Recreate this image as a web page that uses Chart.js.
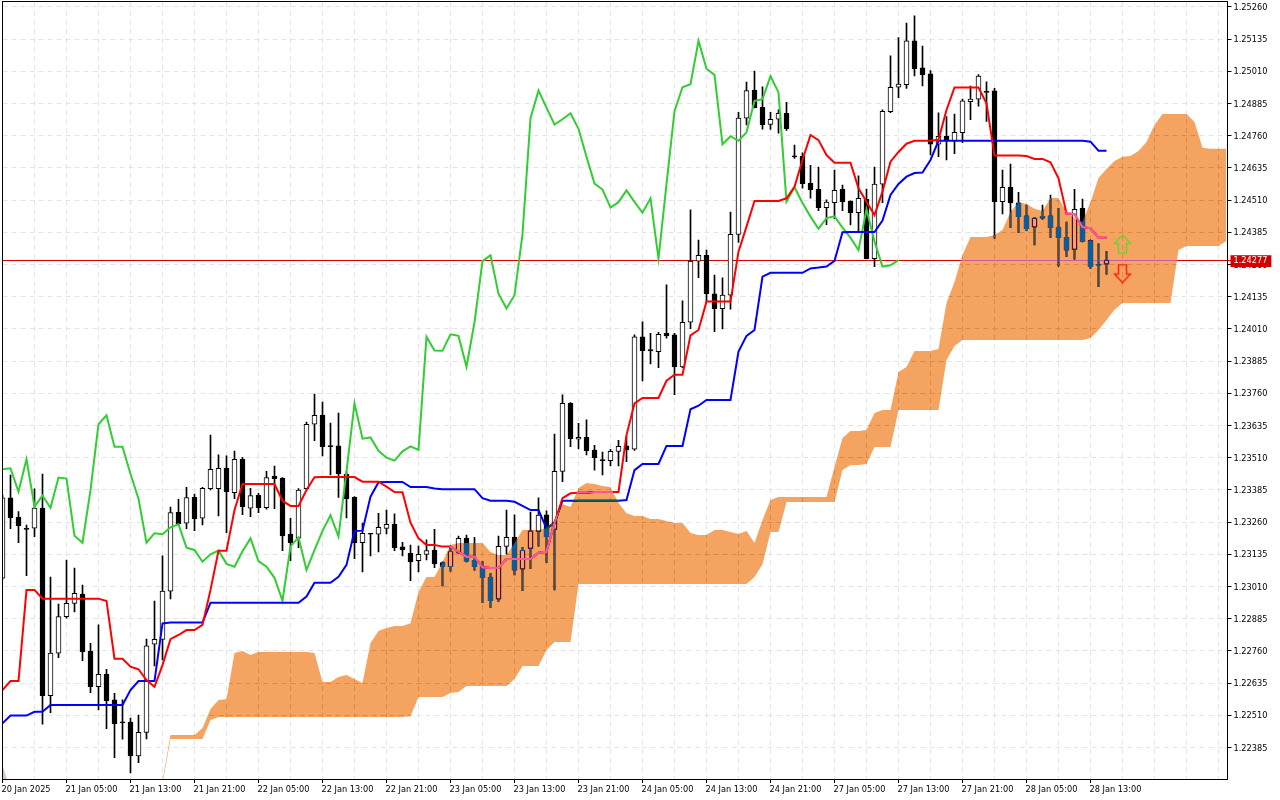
<!DOCTYPE html>
<html>
<head>
<meta charset="utf-8">
<title>EURUSD Ichimoku H1</title>
<style>html,body{margin:0;padding:0;background:#fff;overflow:hidden}canvas{display:block}</style>
<script src="https://cdn.jsdelivr.net/npm/chart.js@4/dist/chart.umd.min.js"></script>
</head>
<body>
<canvas id="c" width="1280" height="800"></canvas>
<script>
const timeLabels = ["20 Jan 2025","21 Jan 05:00","21 Jan 13:00","21 Jan 21:00","22 Jan 05:00","22 Jan 13:00","22 Jan 21:00","23 Jan 05:00","23 Jan 13:00","23 Jan 21:00","24 Jan 05:00","24 Jan 13:00","24 Jan 21:00","27 Jan 05:00","27 Jan 13:00","27 Jan 21:00","28 Jan 05:00","28 Jan 13:00"];
const priceTicks = [1.22385,1.22510,1.22635,1.22760,1.22885,1.23010,1.23135,1.23260,1.23385,1.23510,1.23635,1.23760,1.23885,1.24010,1.24135,1.24260,1.24385,1.24510,1.24635,1.24760,1.24885,1.25010,1.25135,1.25260];
const lastPrice = 1.24277;
const opens = [
1.23043,1.23354,1.23280,1.23236,1.23237,1.23315,1.22586,1.22751,1.22893,1.22945,
1.22981,1.22760,1.22621,1.22669,1.22570,1.22485,1.22484,1.22353,1.22444,1.22786,
1.22805,1.22992,1.23298,1.23256,1.23356,1.23275,1.23390,1.23390,1.23469,1.23374,
1.23504,1.23314,1.23364,1.23316,1.23439,1.23430,1.23214,1.23198,1.23390,1.23640,
1.23676,1.23555,1.23556,1.23447,1.23356,1.23180,1.23215,1.23213,1.23236,1.23252,
1.23164,1.23139,1.23110,1.23135,1.23152,1.23103,1.23087,1.23141,1.23198,1.23112,
1.23087,1.23047,1.22961,1.23166,1.23202,1.23077,1.23158,1.23224,1.23288,1.23232,
1.23457,1.23721,1.23582,1.23589,1.23540,1.23502,1.23499,1.23535,1.23556,1.23543,
1.23979,1.23930,1.23922,1.23993,1.23987,1.23863,1.24036,1.24273,1.24296,1.24146,
1.24089,1.24141,1.24377,1.24828,1.24936,1.24870,1.24804,1.24824,1.24847,1.24681,
1.24681,1.24575,1.24552,1.24481,1.24500,1.24552,1.24506,1.24461,1.24513,1.24283,
1.24572,1.24853,1.24948,1.24958,1.25128,1.25023,1.25000,1.24727,1.24759,1.24740,
1.24772,1.24892,1.24902,1.24932,1.24934,1.24504,1.24560,1.24499,1.24449,1.24405,
1.24440,1.24449,1.24405,1.24366,1.24319,1.24478,1.24353,1.24260,1.24261];
const highs = [
1.23365,1.23443,1.23301,1.23249,1.23389,1.23447,1.23047,1.22942,1.23113,1.23082,
1.23016,1.22790,1.22861,1.22689,1.22596,1.22570,1.22499,1.22511,1.22806,1.22954,
1.23129,1.23318,1.23349,1.23395,1.23369,1.23395,1.23598,1.23521,1.23517,1.23536,
1.23512,1.23391,1.23372,1.23457,1.23478,1.23433,1.23275,1.23390,1.23648,1.23757,
1.23726,1.23645,1.23683,1.23456,1.23359,1.23256,1.23217,1.23294,1.23307,1.23292,
1.23182,1.23171,1.23167,1.23191,1.23232,1.23106,1.23167,1.23206,1.23210,1.23201,
1.23108,1.23061,1.23206,1.23307,1.23288,1.23162,1.23299,1.23354,1.23304,1.23602,
1.23754,1.23724,1.23644,1.23657,1.23558,1.23532,1.23543,1.23578,1.23591,1.23987,
1.24038,1.23993,1.23997,1.24181,1.23993,1.24119,1.24472,1.24355,1.24316,1.24219,
1.24208,1.24464,1.24851,1.24968,1.25011,1.24950,1.24851,1.24860,1.24890,1.24724,
1.24694,1.24645,1.24638,1.24511,1.24627,1.24568,1.24507,1.24604,1.24553,1.24638,
1.24860,1.25070,1.25141,1.25197,1.25225,1.25108,1.25013,1.24849,1.24834,1.24844,
1.24902,1.24953,1.24997,1.24969,1.24944,1.24627,1.24650,1.24540,1.24491,1.24443,
1.24491,1.24530,1.24478,1.24425,1.24552,1.24514,1.24355,1.24340,1.24310];
const lows = [
1.23039,1.23235,1.23180,1.23052,1.23204,1.22476,1.22520,1.22734,1.22887,1.22912,
1.22722,1.22598,1.22531,1.22458,1.22346,1.22418,1.22287,1.22326,1.22419,1.22702,
1.22725,1.22962,1.23249,1.23235,1.23227,1.23249,1.23385,1.23284,1.23219,1.23351,
1.23289,1.23281,1.23297,1.23310,1.23312,1.23149,1.23110,1.23161,1.23385,1.23576,
1.23517,1.23443,1.23356,1.23276,1.23118,1.23067,1.23129,1.23144,1.23214,1.23149,
1.23129,1.23033,1.23067,1.23113,1.23083,1.23012,1.23070,1.23140,1.23106,1.23074,
1.22947,1.22928,1.22951,1.23136,1.23055,1.22994,1.23079,1.23167,1.23103,1.22997,
1.23417,1.23553,1.23544,1.23521,1.23462,1.23443,1.23478,1.23478,1.23495,1.23538,
1.23808,1.23874,1.23860,1.23974,1.23755,1.23860,1.24011,1.24209,1.24116,1.23999,
1.24010,1.24087,1.24346,1.24802,1.24868,1.24785,1.24784,1.24770,1.24781,1.24672,
1.24556,1.24518,1.24469,1.24415,1.24438,1.24469,1.24414,1.24390,1.24282,1.24252,
1.24500,1.24849,1.24908,1.24944,1.24992,1.24953,1.24685,1.24679,1.24666,1.24690,
1.24733,1.24822,1.24875,1.24815,1.24362,1.24456,1.24403,1.24384,1.24391,1.24336,
1.24436,1.24364,1.24254,1.24290,1.24281,1.24348,1.24245,1.24174,1.24223];
const closes = [
1.23354,1.23277,1.23246,1.23232,1.23315,1.22586,1.22752,1.22893,1.22945,1.22984,
1.22757,1.22621,1.22669,1.22566,1.22478,1.22481,1.22353,1.22444,1.22780,1.22805,
1.22992,1.23297,1.23254,1.23355,1.23273,1.23391,1.23465,1.23469,1.23378,1.23504,
1.23320,1.23363,1.23316,1.23433,1.23429,1.23207,1.23180,1.23384,1.23640,1.23675,
1.23553,1.23553,1.23447,1.23351,1.23180,1.23217,1.23213,1.23240,1.23252,1.23161,
1.23152,1.23106,1.23135,1.23150,1.23098,1.23087,1.23147,1.23197,1.23109,1.23087,
1.23044,1.22955,1.23166,1.23201,1.23074,1.23151,1.23226,1.23287,1.23204,1.23457,
1.23721,1.23584,1.23589,1.23537,1.23510,1.23499,1.23535,1.23554,1.23540,1.23979,
1.23926,1.23925,1.23989,1.23983,1.23863,1.24036,1.24273,1.24296,1.24147,1.24089,
1.24141,1.24377,1.24828,1.24935,1.24869,1.24803,1.24824,1.24847,1.24787,1.24678,
1.24574,1.24551,1.24481,1.24502,1.24548,1.24503,1.24461,1.24517,1.24283,1.24572,
1.24855,1.24948,1.24960,1.25128,1.25020,1.24996,1.24727,1.24758,1.24740,1.24773,
1.24895,1.24902,1.24991,1.24928,1.24504,1.24560,1.24499,1.24446,1.24399,1.24440,
1.24447,1.24403,1.24364,1.24316,1.24474,1.24349,1.24252,1.24257,1.24277];
const tenkan = [
1.22608,1.22643,1.22643,1.22997,1.22997,1.22963,1.22963,1.22963,1.22963,1.22963,
1.22963,1.22963,1.22963,1.22954,1.22730,1.22730,1.22699,1.22689,1.22647,1.22621,
1.22705,1.22806,1.22822,1.22841,1.22841,1.22861,1.22997,1.23149,1.23149,1.23307,
1.23408,1.23408,1.23408,1.23408,1.23408,1.23343,1.23323,1.23323,1.23385,1.23434,
1.23435,1.23435,1.23435,1.23435,1.23435,1.23417,1.23417,1.23417,1.23398,1.23377,
1.23376,1.23258,1.23197,1.23171,1.23171,1.23165,1.23165,1.23145,1.23126,1.23126,
1.23085,1.23082,1.23082,1.23117,1.23117,1.23117,1.23117,1.23141,1.23145,1.23257,
1.23353,1.23372,1.23374,1.23374,1.23377,1.23377,1.23377,1.23377,1.23598,1.23721,
1.23742,1.23742,1.23742,1.23809,1.23832,1.23832,1.23985,1.24006,1.24116,1.24116,
1.24116,1.24116,1.24310,1.24407,1.24507,1.24507,1.24507,1.24507,1.24517,1.24562,
1.24666,1.24763,1.24743,1.24685,1.24655,1.24655,1.24655,1.24556,1.24504,1.24452,
1.24543,1.24659,1.24697,1.24729,1.24740,1.24740,1.24740,1.24744,1.24860,1.24947,
1.24947,1.24947,1.24947,1.24886,1.24683,1.24683,1.24683,1.24683,1.24681,1.24670,
1.24670,1.24657,1.24595,1.24459,1.24455,1.24405,1.24401,1.24364,1.24364];
const kijun = [
1.22479,1.22509,1.22509,1.22509,1.22524,1.22524,1.22550,1.22550,1.22550,1.22550,
1.22550,1.22550,1.22550,1.22550,1.22550,1.22550,1.22608,1.22643,1.22643,1.22643,
1.22867,1.22870,1.22870,1.22870,1.22870,1.22870,1.22947,1.22947,1.22947,1.22947,
1.22947,1.22947,1.22947,1.22947,1.22947,1.22947,1.22947,1.22947,1.22971,1.23025,
1.23025,1.23025,1.23048,1.23094,1.23226,1.23227,1.23359,1.23415,1.23416,1.23416,
1.23416,1.23396,1.23396,1.23396,1.23391,1.23388,1.23388,1.23388,1.23388,1.23388,
1.23353,1.23343,1.23343,1.23343,1.23339,1.23323,1.23307,1.23307,1.23236,1.23256,
1.23343,1.23343,1.23343,1.23343,1.23343,1.23343,1.23343,1.23343,1.23346,1.23462,
1.23486,1.23486,1.23486,1.23556,1.23556,1.23556,1.23698,1.23712,1.23734,1.23734,
1.23734,1.23734,1.23922,1.23983,1.24006,1.24213,1.24228,1.24228,1.24228,1.24228,
1.24228,1.24245,1.24248,1.24252,1.24274,1.24385,1.24386,1.24386,1.24386,1.24386,
1.24431,1.24530,1.24573,1.24601,1.24615,1.24617,1.24666,1.24740,1.24740,1.24740,
1.24740,1.24740,1.24740,1.24740,1.24740,1.24740,1.24740,1.24740,1.24740,1.24740,
1.24740,1.24740,1.24740,1.24740,1.24740,1.24740,1.24737,1.24702,1.24702];
const chikou = [
1.23465,1.23469,1.23378,1.23504,1.23320,1.23363,1.23316,1.23433,1.23429,1.23207,
1.23180,1.23384,1.23640,1.23675,1.23553,1.23553,1.23447,1.23351,1.23180,1.23217,
1.23213,1.23240,1.23252,1.23161,1.23152,1.23106,1.23135,1.23150,1.23098,1.23087,
1.23147,1.23197,1.23109,1.23087,1.23044,1.22955,1.23166,1.23201,1.23074,1.23151,
1.23226,1.23287,1.23204,1.23457,1.23721,1.23584,1.23589,1.23537,1.23510,1.23499,
1.23535,1.23554,1.23540,1.23979,1.23926,1.23925,1.23989,1.23983,1.23863,1.24036,
1.24273,1.24296,1.24147,1.24089,1.24141,1.24377,1.24828,1.24935,1.24869,1.24803,
1.24824,1.24847,1.24787,1.24678,1.24574,1.24551,1.24481,1.24502,1.24548,1.24503,
1.24461,1.24517,1.24283,1.24572,1.24855,1.24948,1.24960,1.25128,1.25020,1.24996,
1.24727,1.24758,1.24740,1.24773,1.24895,1.24902,1.24991,1.24928,1.24504,1.24560,
1.24499,1.24446,1.24399,1.24440,1.24447,1.24403,1.24364,1.24316,1.24474,1.24349,
1.24252,1.24257,1.24277];
const cloudTop = [
null,null,null,null,null,null,null,null,null,null,
null,null,null,null,null,null,null,null,null,null,
1.22255,1.22434,1.22434,1.22434,1.22434,1.22461,1.22535,1.22570,1.22573,1.22752,
1.22760,1.22744,1.22756,1.22756,1.22756,1.22756,1.22756,1.22756,1.22756,1.22752,
1.22640,1.22640,1.22659,1.22667,1.22651,1.22636,1.22791,1.22837,1.22849,1.22857,
1.22857,1.22868,1.22989,1.23047,1.23047,1.23105,1.23171,1.23179,1.23179,1.23179,
1.23179,1.23144,1.23132,1.23132,1.23179,1.23230,1.23230,1.23230,1.23237,1.23268,
1.23330,1.23319,1.23393,1.23412,1.23408,1.23400,1.23396,1.23334,1.23295,1.23284,
1.23284,1.23272,1.23272,1.23264,1.23257,1.23257,1.23218,1.23210,1.23210,1.23230,
1.23230,1.23222,1.23214,1.23226,1.23179,1.23268,1.23346,1.23358,1.23358,1.23358,
1.23358,1.23358,1.23358,1.23358,1.23474,1.23587,1.23614,1.23614,1.23618,1.23684,
1.23695,1.23695,1.23843,1.23862,1.23924,1.23924,1.23924,1.23932,1.24111,1.24192,
1.24297,1.24367,1.24367,1.24367,1.24375,1.24394,1.24464,1.24503,1.24495,1.24476,
1.24468,1.24518,1.24518,1.24464,1.24441,1.24425,1.24503,1.24596,1.24631,1.24662,
1.24678,1.24681,1.24701,1.24736,1.24802,1.24844,1.24844,1.24844,1.24844,1.24813,
1.24713,1.24709,1.24709,1.24709];
const cloudBottom = [
null,null,null,null,null,null,null,null,null,null,
null,null,null,null,null,null,null,null,null,null,
1.22244,1.22418,1.22418,1.22418,1.22418,1.22418,1.22492,1.22504,1.22504,1.22504,
1.22504,1.22504,1.22504,1.22504,1.22504,1.22504,1.22504,1.22504,1.22504,1.22504,
1.22504,1.22504,1.22504,1.22504,1.22504,1.22504,1.22504,1.22504,1.22504,1.22504,
1.22504,1.22507,1.22581,1.22581,1.22581,1.22581,1.22597,1.22601,1.22624,1.22624,
1.22624,1.22624,1.22624,1.22624,1.22651,1.22702,1.22702,1.22702,1.22764,1.22795,
1.22795,1.22795,1.23020,1.23020,1.23020,1.23020,1.23020,1.23020,1.23020,1.23020,
1.23020,1.23020,1.23020,1.23020,1.23020,1.23020,1.23020,1.23020,1.23020,1.23020,
1.23020,1.23020,1.23020,1.23020,1.23047,1.23097,1.23222,1.23222,1.23338,1.23338,
1.23338,1.23338,1.23338,1.23338,1.23338,1.23462,1.23482,1.23482,1.23486,1.23552,
1.23552,1.23552,1.23695,1.23695,1.23695,1.23695,1.23695,1.23695,1.23889,1.23944,
1.23967,1.23967,1.23967,1.23967,1.23967,1.23967,1.23967,1.23967,1.23967,1.23967,
1.23967,1.23967,1.23967,1.23967,1.23967,1.23967,1.23975,1.24006,1.24045,1.24084,
1.24111,1.24111,1.24111,1.24111,1.24111,1.24111,1.24111,1.24316,1.24332,1.24332,
1.24332,1.24332,1.24332,1.24351];
const oldCloudTop = [1.22317,1.22220];
const oldCloudBottom = [1.22220,1.22220];
const arrowIndex = 140;
const arrowUpPrice = 1.24340;
const arrowDownPrice = 1.24225;
const tenkanInCloudRanges = [[56, 69], [133, 138]];
const kijunInCloudRanges = [[72, 77]];

const barCount = 154;
const labels = Array.from({length: barCount}, (_, k) => k % 8 === 0 ? (timeLabels[k / 8] || '') : '');
const wickData = highs.map((h, k) => [lows[k], h]);
const bodyData = opens.map((o, k) => [o, closes[k]]);
const bodyFill = opens.map((o, k) => closes[k] >= o ? '#ffffff' : '#000000');
const inRanges = (series, ranges) => series.map((v, k) => ranges.some(r => k >= r[0] && k <= r[1]) ? v : null);

function arrowCanvas(color, up) {
  const c = document.createElement('canvas');
  c.width = 19; c.height = 20;
  const g = c.getContext('2d');
  g.strokeStyle = color; g.lineWidth = 1.6; g.lineJoin = 'miter';
  const pts = up
    ? [[9.5,1],[17.5,9.5],[13.5,9.5],[13.5,19],[5.5,19],[5.5,9.5],[1.5,9.5]]
    : [[9.5,19],[17.5,10.5],[13.5,10.5],[13.5,1],[5.5,1],[5.5,10.5],[1.5,10.5]];
  g.beginPath();
  pts.forEach((p, i) => i ? g.lineTo(p[0], p[1]) : g.moveTo(p[0], p[1]));
  g.closePath(); g.stroke();
  return c;
}

const CLOUD_TOP = 'Senkou Span A', CLOUD_BOTTOM = 'Senkou Span B';
const cloudBlend = {
  id: 'cloudBlend',
  beforeDraw(chart) {
    const ctx = chart.ctx;
    ctx.save(); ctx.fillStyle = '#ffffff'; ctx.fillRect(0, 0, chart.width, chart.height); ctx.restore();
  },
  afterDatasetDraw(chart, args) {
    const name = chart.data.datasets[args.index].label;
    if (name === CLOUD_BOTTOM) chart.ctx.globalCompositeOperation = 'difference';
    if (name === CLOUD_TOP) chart.ctx.globalCompositeOperation = 'source-over';
  },
  afterDraw(chart) {
    const a = chart.chartArea, ctx = chart.ctx;
    ctx.save();
    ctx.strokeStyle = '#000'; ctx.lineWidth = 1;
    ctx.strokeRect(a.left, a.top - 0.5, a.right + 1 - a.left, a.bottom + 1 - a.top);
    ctx.restore();
  }
};

const lineBase = {type: 'line', pointRadius: 0, borderWidth: 2, tension: 0, fill: false, spanGaps: false};
const gridColor = '#e4e4e4';
new Chart(document.getElementById('c'), {
  type: 'bar',
  data: {
    labels,
    datasets: [
      {...lineBase, label: 'Old Cloud Top', data: oldCloudTop, borderColor: 'rgba(0,0,0,0)', backgroundColor: '#d8bfd8', fill: '+1', order: 9},
      {...lineBase, label: 'Old Cloud Bottom', data: oldCloudBottom, borderColor: 'rgba(0,0,0,0)', order: 9},
      {type: 'bar', label: 'Wick', data: wickData, backgroundColor: '#000', barThickness: 1, grouped: false, order: 8, borderWidth: 0},
      {type: 'bar', label: 'Body', data: bodyData, backgroundColor: bodyFill, borderColor: '#000', borderWidth: 1, borderSkipped: false, barThickness: 5, grouped: false, minBarLength: 1, order: 7},
      {...lineBase, label: 'Chikou Span', data: chikou, borderColor: '#32cd32', order: 6},
      {...lineBase, label: 'Kijun-sen', data: kijun, borderColor: '#0000ff', order: 5},
      {...lineBase, label: 'Tenkan-sen', data: tenkan, borderColor: '#ff0000', order: 4},
      {...lineBase, label: CLOUD_TOP, data: cloudTop, borderColor: 'rgba(0,0,0,0)', backgroundColor: '#0b5b9f', fill: '+1', order: 2},
      {...lineBase, label: CLOUD_BOTTOM, data: cloudBottom, borderColor: 'rgba(0,0,0,0)', order: 2},
      {...lineBase, label: 'Kijun-sen in cloud', data: inRanges(kijun, kijunInCloudRanges), borderColor: '#0b5b60', order: 1.5},
      {...lineBase, label: 'Tenkan-sen in cloud', data: inRanges(tenkan, tenkanInCloudRanges), borderColor: '#f45b9f', order: 1.5},
      {type: 'line', label: 'Up Arrow', data: labels.map((_, k) => k === arrowIndex ? arrowUpPrice : null), showLine: false, pointRadius: 5, pointStyle: arrowCanvas('#72cf3a', true), order: 1},
      {type: 'line', label: 'Down Arrow', data: labels.map((_, k) => k === arrowIndex ? arrowDownPrice : null), showLine: false, pointRadius: 5, pointStyle: arrowCanvas('#ff2a10', false), order: 1}
    ]
  },
  options: {
    responsive: false,
    animation: false,
    devicePixelRatio: 1,
    layout: {autoPadding: false, padding: {left: 2.5, top: 2, right: 0, bottom: 0}},
    plugins: {legend: {display: false}, title: {display: false}, tooltip: {enabled: false}},
    scales: {
      x: {
        type: 'category',
        offset: false,
        afterFit(s) { s.height = 21; s.paddingLeft = 0; s.paddingRight = 0; },
        grid: {
          offset: false,
          drawOnChartArea: true,
          tickLength: 4,
          color: ctx => ctx.index % 4 === 0 ? gridColor : 'rgba(0,0,0,0)',
          tickColor: ctx => labels[ctx.index] ? '#000' : 'rgba(0,0,0,0)'
        },
        border: {display: false, dash: [5, 4]},
        ticks: {
          autoSkip: false, maxRotation: 0, minRotation: 0, align: 'start', padding: 2, labelOffset: -1,
          color: '#000', font: {family: '"DejaVu Sans"', size: 8.2},
          callback(v, i) { return labels[i]; }
        }
      },
      y: {
        type: 'linear',
        position: 'right',
        min: 1.22263,
        max: 1.25279,
        afterFit(s) { s.width = 53.5; s.paddingTop = 0; s.paddingBottom = 0; },
        afterBuildTicks(s) { s.ticks = priceTicks.concat(lastPrice).sort((a, b) => a - b).map(v => ({value: v})); },
        grid: {
          tickLength: 5,
          color: ctx => ctx.tick && ctx.tick.value === lastPrice ? '#d40000' : gridColor,
          tickColor: ctx => ctx.tick && ctx.tick.value === lastPrice ? '#d40000' : '#000'
        },
        border: {display: false, dash: ctx => ctx.tick && ctx.tick.value === lastPrice ? [] : [5, 4]},
        ticks: {
          autoSkip: false, padding: 2, labelOffset: 1,
          font: {family: '"DejaVu Sans"', size: 8.2},
          color: ctx => ctx.tick && ctx.tick.value === lastPrice ? '#ffffff' : '#000',
          showLabelBackdrop: ctx => !!(ctx.tick && ctx.tick.value === lastPrice),
          backdropColor: '#d40000',
          backdropPadding: {left: 3, right: 4, top: 1, bottom: 1},
          callback(v) { return v.toFixed(5); }
        }
      }
    }
  },
  plugins: [cloudBlend]
});
</script>
</body>
</html>
